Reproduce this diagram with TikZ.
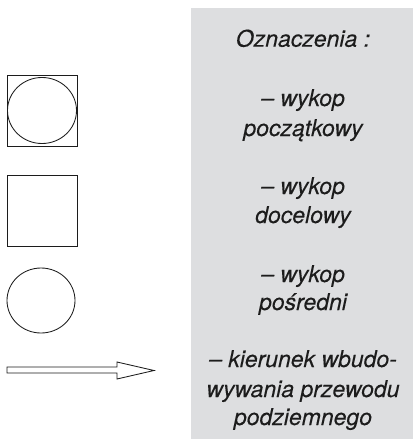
\documentclass[tikz,border=0pt]{standalone}
\usepackage{fontspec}
\setmainfont{TeX Gyre Heros}
\newfontfamily\lblfont[ItalicFeatures={FakeBold=0.2}]{TeX Gyre Heros}
\definecolor{panelgray}{RGB}{221,222,224}
\definecolor{ink}{RGB}{28,28,28}
\begin{document}
\begin{tikzpicture}[x=1pt,y=-1pt,
  sym/.style={draw=ink, line width=0.85pt},
  lbl/.style={font=\lblfont\fontsize{23}{29}\selectfont\itshape, text=ink, anchor=base, inner sep=0pt}]
\useasboundingbox (0,0) rectangle (413,439);
\fill[panelgray] (191,8) rectangle (413,439);
% symbols
\draw[sym] (7,75) rectangle (77,146);
\draw[sym] (42,110.5) ellipse [x radius=34.5, y radius=33];
\draw[sym] (7,175) rectangle (77,246);
\draw[sym] (41,300.5) ellipse [x radius=34, y radius=32.5];
\draw[sym, fill=white, line join=miter] (7,367) -- (117,367) -- (117,362) -- (154,370.5) -- (117,379) -- (117,373) -- (7,373) -- cycle;
% texts
\node[lbl] (t0) at (303,46.7) {Oznaczenia :};
\node[lbl] (t1) at (303,106) {– wykop};
\node[lbl] (t2) at (303,136) {początkowy};
\node[lbl] (t3) at (303,194) {– wykop};
\node[lbl] (t4) at (303,223) {docelowy};
\node[lbl] (t5) at (303,282) {– wykop};
\node[lbl] (t6) at (303,310) {pośredni};
\node[lbl] (t7) at (303,367) {– kierunek wbudo-};
\node[lbl] (t8) at (303,397) {wywania przewodu};
\node[lbl] (t9) at (303,425) {podziemnego};
\end{tikzpicture}
\end{document}
